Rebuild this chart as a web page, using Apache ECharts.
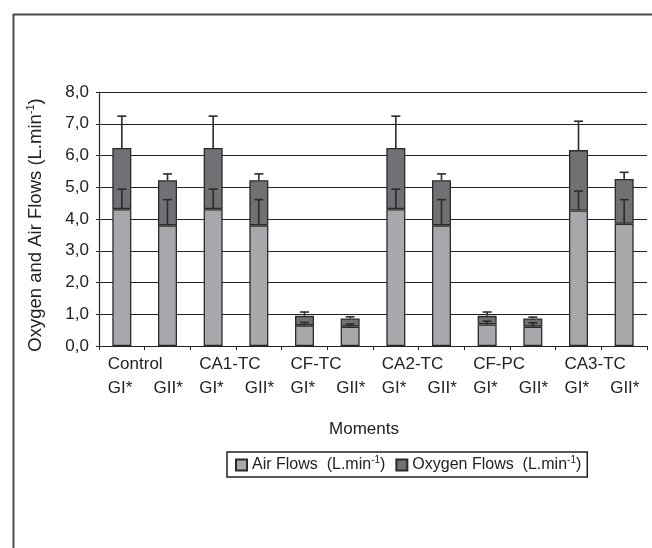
<!DOCTYPE html>
<html><head><meta charset="utf-8">
<script src="https://cdn.jsdelivr.net/npm/echarts@6/dist/echarts.min.js"></script>
<style>html,body{margin:0;padding:0;background:#fff}#c{width:652px;height:548px}</style>
</head><body><div id="c"></div>
<script>
// ---- data ----
const moments = ['Control', 'CA1-TC', 'CF-TC', 'CA2-TC', 'CF-PC', 'CA3-TC'];
const groups = ['GI*', 'GII*'];
const airFlows =      [4.31, 3.80, 4.31, 3.80, 0.65, 0.61, 4.31, 3.80, 0.68, 0.61, 4.27, 3.85];
const oxygenFlows =   [1.93, 1.42, 1.93, 1.42, 0.30, 0.26, 1.93, 1.42, 0.27, 0.26, 1.90, 1.41];
const airErrorTop =   [4.94, 4.61, 4.94, 4.61, 0.74, 0.69, 4.94, 4.61, 0.78, 0.73, 4.88, 4.61];
const oxyErrorTop =   [7.24, 5.42, 7.24, 5.42, 1.07, 0.92, 7.24, 5.42, 1.07, 0.91, 7.08, 5.47];
const yTicks = ['0,0','1,0','2,0','3,0','4,0','5,0','6,0','7,0','8,0'];

const categories = [];
moments.forEach(m => groups.forEach(g => categories.push(m + ' ' + g)));

const FONT = 'Liberation Sans, Arial, sans-serif';
const TXT = '#222';

const airErr = airFlows.map((v, i) => [i, v, airErrorTop[i]]);
const oxyErr = airFlows.map((v, i) => [i, v + oxygenFlows[i], oxyErrorTop[i]]);

function errRender(params, api) {
  const i = api.value(0);
  const p0 = api.coord([i, api.value(1)]);
  const p1 = api.coord([i, api.value(2)]);
  const hw = 4.5;
  const st = { stroke: '#2b2b2b', lineWidth: 1.6 };
  return { type: 'group', children: [
    { type: 'line', shape: { x1: p0[0], y1: p0[1], x2: p1[0], y2: p1[1] }, style: st },
    { type: 'line', shape: { x1: p1[0] - hw, y1: p1[1], x2: p1[0] + hw, y2: p1[1] }, style: st }
  ]};
}

const chart = echarts.init(document.getElementById('c'), null, { renderer: 'canvas' });
chart.setOption({
  backgroundColor: '#fff',
  animation: false,
  textStyle: { fontFamily: FONT, color: TXT },
  graphic: [{
    type: 'rect', left: 11, top: 12, shape: { x: 0, y: 0, width: 700, height: 600 },
    style: { fill: 'none', stroke: '#4a4a4a', lineWidth: 2 }, silent: true
  }],
  grid: { left: 99, right: 5, top: 92, bottom: 202 },
  legend: {
    left: 227, top: 452,
    data: ['Air Flows', 'Oxygen Flows'],
    itemWidth: 11, itemHeight: 11, itemGap: 10,
    borderColor: '#222', borderWidth: 1.5, padding: [3, 6, 3, 8],
    icon: 'rect',
    formatter: name => '{t|' + name + '  (L.min}{s|-1}{t|)}',
    textStyle: {
      fontFamily: FONT, color: TXT,
      rich: {
        t: { fontSize: 16, lineHeight: 20, fontFamily: FONT, color: TXT },
        s: { fontSize: 10, lineHeight: 20, verticalAlign: 'top', padding: [0, 0, 9, 0], fontFamily: FONT, color: TXT }
      }
    }
  },
  xAxis: {
    type: 'category', data: categories,
    name: 'Moments', nameLocation: 'middle', nameGap: 75,
    nameTextStyle: { fontSize: 17, fontFamily: FONT, color: TXT, padding: [0, 18, 0, 0] },
    axisLine: { lineStyle: { color: '#222', width: 1.2 } },
    axisTick: { show: true, length: 4, lineStyle: { color: '#222' } },
    axisLabel: {
      interval: 0, margin: 6, align: 'center',
      formatter: (v, idx) => {
        const top = idx % 2 === 0 ? moments[idx / 2] : '\u00a0';
        return '{a|' + top + '}\n{a|' + groups[idx % 2] + '}';
      },
      rich: { a: { width: 28, align: 'left', fontSize: 17, lineHeight: 24, fontFamily: FONT, color: TXT } }
    }
  },
  yAxis: {
    type: 'value', min: 0, max: 8, interval: 1,
    name: '{t|Oxygen and Air Flows (L.min}{s|-1}{t|)}',
    nameLocation: 'middle', nameGap: 52, nameRotate: 90,
    nameTextStyle: {
      padding: [0, 12, 0, 0],
      rich: {
        t: { fontSize: 18.5, lineHeight: 22, fontFamily: FONT, color: TXT },
        s: { fontSize: 11, lineHeight: 22, verticalAlign: 'top', padding: [0, 0, 10, 0], fontFamily: FONT, color: TXT }
      }
    },
    axisLine: { show: true, lineStyle: { color: '#222', width: 1.2 } },
    axisTick: { show: true, length: 3, lineStyle: { color: '#222' } },
    splitLine: { lineStyle: { color: '#222', width: 1 } },
    axisLabel: { fontSize: 17, fontFamily: FONT, color: TXT, margin: 10,
      formatter: v => yTicks[Math.round(v)] }
  },
  series: [
    { name: 'Air Flows', type: 'bar', stack: 'f', data: airFlows, barWidth: 19,
      itemStyle: { color: '#a7a8ab', borderColor: '#2b2b2b', borderWidth: 1.3 } },
    { name: 'Oxygen Flows', type: 'bar', stack: 'f', data: oxygenFlows, barWidth: 19,
      itemStyle: { color: '#717175', borderColor: '#2b2b2b', borderWidth: 1.3 } },
    { type: 'custom', renderItem: errRender, data: airErr, z: 10, encode: { x: 0, y: [1, 2] } },
    { type: 'custom', renderItem: errRender, data: oxyErr, z: 10, encode: { x: 0, y: [1, 2] } }
  ]
});
</script></body></html>
